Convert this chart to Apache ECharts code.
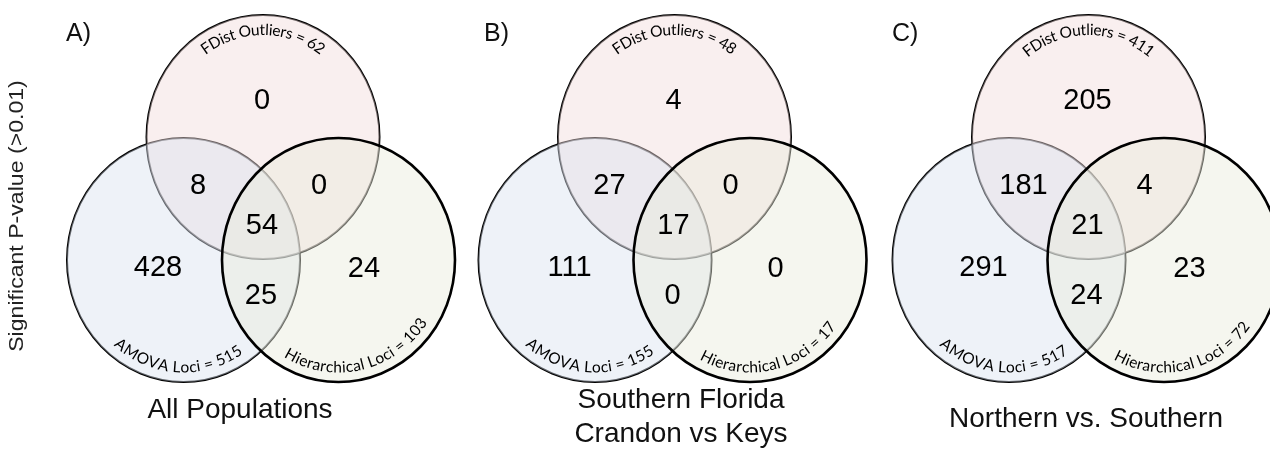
<!DOCTYPE html>
<html><head><meta charset="utf-8">
<script src="https://cdn.jsdelivr.net/npm/echarts@6/dist/echarts.min.js"></script>
<style>html,body{margin:0;padding:0;background:#fff}#c{width:1270px;height:451px}</style>
</head><body><div id="c"></div>
<script>
// ---------- data ----------
const panelLetters = ['A)', 'B)', 'C)'];
const panelTitles = ['All Populations', 'Southern Florida\nCrandon vs Keys', 'Northern vs. Southern'];
const setNames = ['FDist Outliers', 'AMOVA Loci', 'Hierarchical Loci'];
const fdistTotals = [62, 48, 411];
const amovaTotals = [515, 155, 517];
const hierTotals = [103, 17, 72];
const onlyFdist = [0, 4, 205];
const onlyAmova = [428, 111, 291];
const onlyHier = [24, 0, 23];
const fdistAmova = [8, 27, 181];
const fdistHier = [0, 0, 4];
const amovaHier = [25, 0, 24];
const allThree = [54, 17, 21];
const yTitle = 'Significant P-value (>0.01)';

// ---------- layout ----------
const PANEL_X = [263, 674.5, 1088.5];
const TOP_Y = 137;
const RX = 116.5, RY = 122;
const LEFT_OFF = [-79.5, 123], RIGHT_OFF = [75.5, 123];
const REGION_OFF = {
  onlyF: [-1, -36], FA: [-65, 49], FH: [56, 49], all: [-1, 89],
  onlyA: [-105, 131], AH: [-2, 159], onlyH: [101, 132]
};
const NUM_FONT = '29px "Liberation Sans", Arial, Helvetica, sans-serif';
const ARC_FONT = '15.5px Lato, "Open Sans", sans-serif';

const mctx = document.createElement('canvas').getContext('2d');

function arcText(str, cx, cy, a, b, t0deg, side) {
  mctx.font = ARC_FONT;
  const chars = [...str];
  const widths = chars.map(ch => mctx.measureText(ch).width);
  const total = widths.reduce((p, q) => p + q, 0);
  const dir = side === 'top' ? 1 : -1;
  const speed = t => Math.sqrt(Math.pow(a * Math.sin(t), 2) + Math.pow(b * Math.cos(t), 2));
  function advance(t, ds) {
    const n = Math.max(1, Math.ceil(Math.abs(ds)));
    const step = ds / n;
    for (let i = 0; i < n; i++) t += dir * step / speed(t);
    return t;
  }
  let t = advance(t0deg * Math.PI / 180, -total / 2);
  const els = [];
  for (let k = 0; k < chars.length; k++) {
    const tm = advance(t, widths[k] / 2);
    const x = cx + a * Math.cos(tm), y = cy + b * Math.sin(tm);
    const tx = -a * Math.sin(tm) * dir, ty = b * Math.cos(tm) * dir;
    const phi = Math.atan2(ty, tx);
    els.push({
      type: 'text', x: x, y: y, rotation: -phi,
      style: { text: chars[k], font: ARC_FONT, fill: '#000', align: 'center', verticalAlign: 'middle' }
    });
    t = advance(t, widths[k]);
  }
  return els;
}

function ell(c, r, style, z) {
  return { type: 'circle', x: c[0], y: c[1], scaleY: r[1] / r[0], shape: { cx: 0, cy: 0, r: r[0] }, style: style, z2: z };
}

function renderItem(params, api) {
  const i = params.dataIndex;
  const px = api.value(0), py = api.value(1);
  const top = api.coord([px, py]);
  const left = api.coord([px + LEFT_OFF[0], py + LEFT_OFF[1]]);
  const right = api.coord([px + RIGHT_OFF[0], py + RIGHT_OFF[1]]);
  const r = api.size([RX, RY]);
  const children = [];
  children.push(ell(top, r, { fill: 'none', stroke: '#000', lineWidth: 2 }, 1));
  children.push(ell(left, r, { fill: 'none', stroke: '#000', lineWidth: 2 }, 2));
  children.push(ell(top, r, { fill: 'rgba(242,219,219,0.45)', stroke: null }, 3));
  children.push(ell(left, r, { fill: 'rgba(217,226,239,0.45)', stroke: null }, 4));
  children.push(ell(right, r, { fill: 'rgba(233,235,219,0.45)', stroke: null }, 5));
  children.push(ell(right, r, { fill: 'none', stroke: '#000', lineWidth: 2.6 }, 6));
  const regions = [
    ['onlyF', onlyFdist], ['FA', fdistAmova], ['FH', fdistHier], ['all', allThree],
    ['onlyA', onlyAmova], ['AH', amovaHier], ['onlyH', onlyHier]
  ];
  regions.forEach(function (rg) {
    const o = REGION_OFF[rg[0]];
    const p = api.coord([px + o[0], py + o[1]]);
    children.push({ type: 'text', x: p[0], y: p[1], z2: 10,
      style: { text: String(rg[1][i]), font: NUM_FONT, fill: '#000', align: 'center', verticalAlign: 'middle' } });
  });
  const dTop = 15, dBot = 14.5;
  arcText(setNames[0] + ' = ' + fdistTotals[i], top[0], top[1], r[0] - dTop, r[1] - dTop, -90, 'top').forEach(e => { e.z2 = 11; children.push(e); });
  arcText(setNames[1] + ' = ' + amovaTotals[i], left[0], left[1], r[0] - dBot, r[1] - dBot, 93.5, 'bottom').forEach(e => { e.z2 = 11; children.push(e); });
  arcText(setNames[2] + ' = ' + hierTotals[i], right[0], right[1], r[0] - dBot, r[1] - dBot, 77, 'bottom').forEach(e => { e.z2 = 11; children.push(e); });
  return { type: 'group', children: children };
}

const chart = echarts.init(document.getElementById('c'), null, { renderer: 'canvas' });
const TITLE_FONT = '28px "Liberation Sans", Arial, Helvetica, sans-serif';
const titleX = [240, 681, 1086], titleY = [410, 417, 419];
const letterX = [66, 484, 892];
const graphics = [];
for (let i = 0; i < 3; i++) {
  graphics.push({ type: 'text', left: letterX[i], top: 22, style: { text: panelLetters[i], font: '25px "Liberation Sans", Arial, sans-serif', fill: '#111' } });
  graphics.push({ type: 'text', x: titleX[i], y: titleY[i], style: { text: panelTitles[i], font: TITLE_FONT, fill: '#111', align: 'center', verticalAlign: 'middle', lineHeight: 34 } });
}
graphics.push({ type: 'text', x: 17, y: 216, rotation: Math.PI / 2, scaleX: 1.1,
  style: { text: yTitle, font: '21px "Liberation Sans", Arial, sans-serif', fill: '#222', align: 'center', verticalAlign: 'middle' } });

chart.setOption({
  animation: false,
  backgroundColor: '#fff',
  grid: { left: 0, right: 0, top: 0, bottom: 0 },
  xAxis: { type: 'value', min: 0, max: 1270, show: false },
  yAxis: { type: 'value', min: 0, max: 451, inverse: true, show: false },
  graphic: graphics,
  series: [{
    type: 'custom',
    coordinateSystem: 'cartesian2d',
    clip: false,
    renderItem: renderItem,
    data: PANEL_X.map(function (x) { return [x, TOP_Y]; })
  }]
});
</script></body></html>
